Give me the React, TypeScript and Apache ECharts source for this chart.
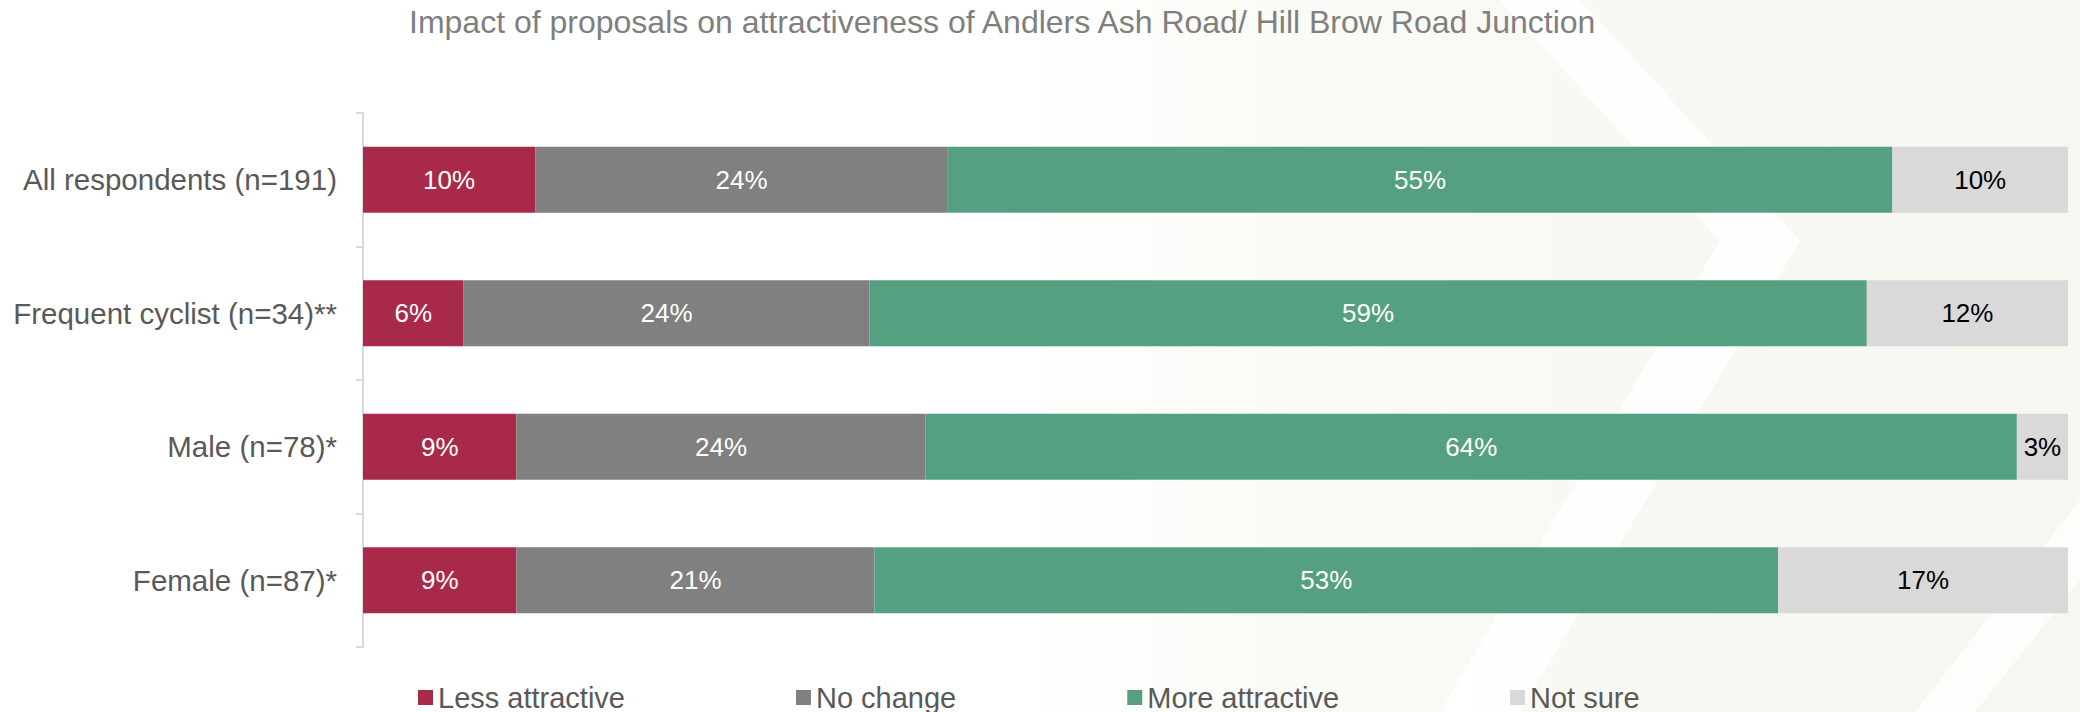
import React, { useEffect, useRef } from "react";
import * as echarts from "echarts";

const titleText = "Impact of proposals on attractiveness of Andlers Ash Road/ Hill Brow Road Junction";
const categories = [
  "All respondents (n=191)",
  "Frequent cyclist (n=34)**",
  "Male (n=78)*",
  "Female (n=87)*",
];
const seriesNames = ["Less attractive", "No change", "More attractive", "Not sure"];
const lessAttractive = [10.1, 5.9, 9.0, 9.0];
const noChange = [24.2, 23.8, 24.0, 21.0];
const moreAttractive = [55.4, 58.5, 64.0, 53.0];
const notSure = [10.3, 11.8, 3.0, 17.0];
const seriesColors = ["#A8294A", "#808080", "#56A082", "#D9D9D9"];
const labelColors = ["#FFFFFF", "#FFFFFF", "#FFFFFF", "#000000"];

const FONT = "'Liberation Sans', Arial, Helvetica, sans-serif";

export default function App() {
  const ref = useRef<HTMLDivElement>(null);
  useEffect(() => {
    if (!ref.current) return;
    const chart = echarts.init(ref.current, null, { renderer: "svg" });
    const values = [lessAttractive, noChange, moreAttractive, notSure];
    chart.setOption({
      animation: false,
      backgroundColor: "#FFFFFF",
      textStyle: { fontFamily: FONT },
      title: {
        text: titleText,
        left: 409,
        top: 6,
        padding: 0,
        textStyle: { fontFamily: FONT, fontSize: 32, fontWeight: "normal", color: "#7F7F7F" },
      },
      graphic: [
        {
          type: "rect",
          z: -10,
          silent: true,
          shape: { x: 1000, y: 0, width: 1080, height: 712 },
          style: {
            fill: new echarts.graphic.LinearGradient(0, 0, 1, 0, [
              { offset: 0, color: "#FFFFFF" },
              { offset: 0.25, color: "#FAFAF6" },
              { offset: 1, color: "#F7F7F1" },
            ]),
          },
        },
        {
          type: "polygon",
          z: -9,
          silent: true,
          shape: {
            points: [
              [1500, 0],
              [1580, 0],
              [1800, 241],
              [1520, 712],
              [1440, 712],
              [1720, 241],
            ],
          },
          style: { fill: "rgba(255,255,255,0.85)" },
        },
        {
          type: "polygon",
          z: -9,
          silent: true,
          shape: {
            points: [
              [2080, 500],
              [2080, 580],
              [1975, 712],
              [1915, 712],
            ],
          },
          style: { fill: "rgba(255,255,255,0.7)" },
        },
      ],
      legend: {
        data: seriesNames,
        left: 418,
        top: 683,
        padding: 0,
        itemWidth: 15,
        itemHeight: 15,
        itemGap: 171,
        icon: "rect",
        textStyle: { fontFamily: FONT, fontSize: 29, lineHeight: 29, color: "#595959" },
      },
      grid: { left: 363, right: 12, top: 113, bottom: 65, containLabel: false },
      xAxis: {
        type: "value",
        min: 0,
        max: 100,
        show: false,
      },
      yAxis: {
        type: "category",
        data: categories,
        inverse: true,
        axisLine: { show: true, lineStyle: { color: "#D9D9D9", width: 2 } },
        axisTick: { show: true, length: 7, lineStyle: { color: "#D9D9D9", width: 2 } },
        axisLabel: { fontFamily: FONT, fontSize: 29.5, color: "#595959", margin: 26 },
      },
      series: seriesNames.map((name, i) => ({
        name,
        type: "bar",
        stack: "total",
        barWidth: 66,
        data: values[i],
        itemStyle: { color: seriesColors[i] },
        label: {
          show: true,
          position: "inside",
          fontFamily: FONT,
          fontSize: 26,
          color: labelColors[i],
          formatter: (p: any) => Math.round(p.value) + "%",
        },
      })),
    });
    return () => chart.dispose();
  }, []);
  return (
    <div
      ref={ref}
      style={{ position: "absolute", left: 0, top: 0, width: 2080, height: 712 }}
    />
  );
}
